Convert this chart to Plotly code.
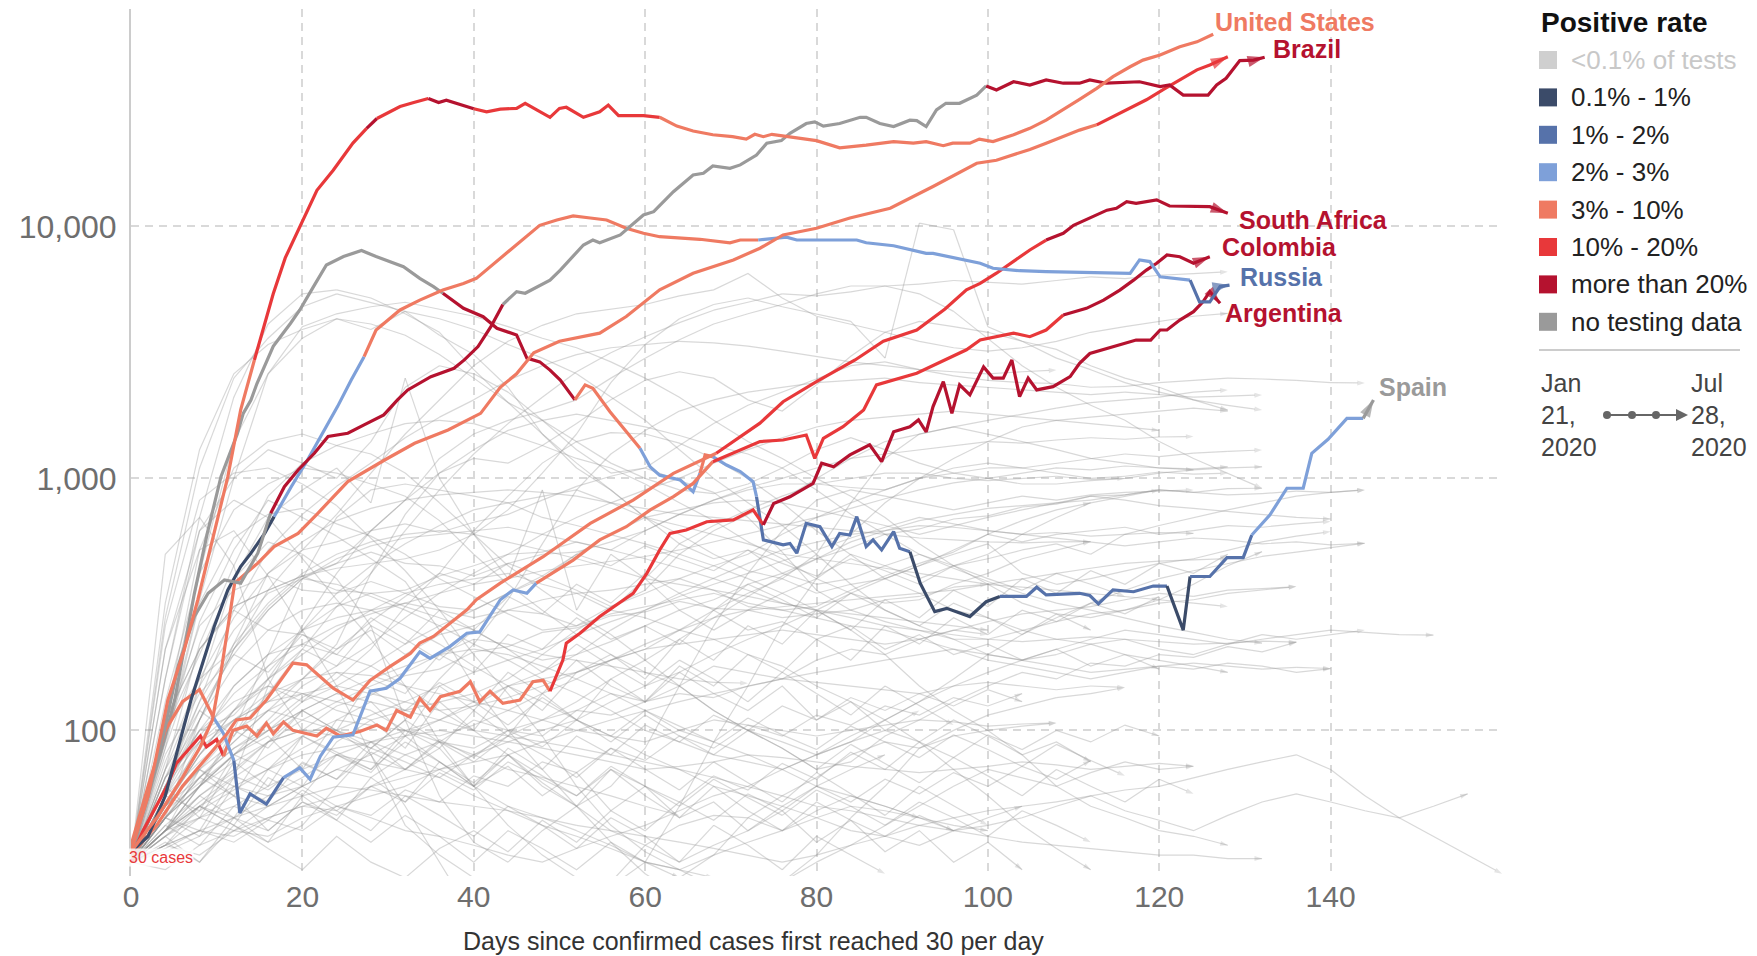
import math
import plotly.graph_objects as go

# ------------------------------------------------------------------ data
X_TICKS = [0, 20, 40, 60, 80, 100, 120, 140]
Y_TICKS = [100, 1000, 10000]
Y_TICK_TEXT = ["100", "1,000", "10,000"]

RATE_KEYS = ["lt01", "p01_1", "p1_2", "p2_3", "p3_10", "p10_20", "gt20", "none"]
RATE_LABELS = ["<0.1% of tests", "0.1% - 1%", "1% - 2%", "2% - 3%", "3% - 10%",
               "10% - 20%", "more than 20%", "no testing data"]
RATE_COLORS = ["#cfcfcf", "#3b4b69", "#5672aa", "#7ea0d9", "#ef7a62",
               "#e8383a", "#b5122f", "#9a9a9a"]

# highlighted countries: day, 7-day avg cases, positive-rate breakpoints
us_days = [0, 2, 4.3, 6.2, 7.8, 9.7, 11.3, 12.8, 14.4, 16.6, 18, 19.7, 21.7, 23.6, 25.9, 27.5, 28.7, 31.4, 33, 34.7,
           35.9, 36.8, 38.5, 40, 41.5, 43.1, 45, 46, 48.9, 50, 50.8, 52.8, 54.7, 55.7, 56.9, 59.8, 61.7, 63.7, 65.6, 67.9,
           70.2, 71.8, 72.8, 73.8, 74.8, 77, 80, 82.7, 85.8, 89, 91.3, 92.8, 94.8, 95.9, 97.9, 99, 100.6, 103, 104.9, 106.8,
           108.8, 110.7, 112.7, 114.6, 116.6, 118.1, 120.1, 122.4, 124.4, 126.3]
us_vals = [33, 55, 132, 208, 330, 607, 1016, 1870, 2950, 5400, 7500, 10000, 13900, 16700, 21400, 24500, 26800, 29900, 31000, 32200,
           31000, 31700, 30500, 29300, 28500, 29200, 29400, 30800, 27100, 29400, 29700, 27100, 28500, 30300, 27500, 27500, 27100, 25000, 23900, 23100,
           22700, 22200, 23200, 22700, 23200, 22600, 21900, 20500, 21000, 21700, 21400, 21700, 20900, 21400, 21400, 22200, 21700, 23100, 24500, 26400,
           29000, 31900, 35300, 39300, 43000, 45700, 47900, 51600, 54000, 57900]
us_rate = [(0, "p3_10"), (14.4, "p10_20"), (27.5, "gt20"), (28.7, "p10_20"), (34.7, "gt20"), (40, "p10_20"), (61.7, "p3_10")]

in_days = [0, 3, 6, 8, 9.5, 10.5, 12.1, 14.8, 16.7, 19.5, 21.8, 25.3, 29.6, 33.1, 37, 40.8, 43.1, 45, 47, 50,
           54.7, 57.8, 61.7, 65.6, 70.3, 73.4, 76.1, 80, 83.9, 88.6, 93.6, 98.7, 101, 103, 104.9, 106.8, 108.8, 110.7, 112.7, 114.6,
           116.6, 118.5, 120.5, 122.4, 124.4, 125.9, 128]
in_vals = [33, 45, 65, 85, 110, 170, 384, 461, 536, 605, 727, 971, 1183, 1378, 1556, 1812, 2300, 2600, 3150, 3500,
           3770, 4390, 5600, 6520, 7360, 8190, 9250, 9830, 10800, 11800, 14400, 17800, 18300, 19200, 20200, 21400, 22700, 24100, 25300, 27300,
           29400, 31800, 35000, 38100, 41800, 43700, 47100]
in_rate = [(0, "p3_10"), (112.7, "p10_20")]

br_days = [0, 2, 3.9, 5.5, 7.4, 9, 10.9, 12.8, 14.8, 16.3, 17.9, 19.5, 21.4, 23, 25.3, 27.2, 29.5, 31.1, 32.3, 35,
           37.7, 38.9, 40.5, 42, 43.4, 45, 46, 48.9, 50.1, 52.8, 53.9, 54.7, 57.1, 59.8, 61, 63.3, 65.6, 66.8, 67.9, 69.9,
           71.1, 73, 74.2, 75.9, 76.9, 78.8, 79.8, 80.8, 82.7, 85.1, 85.8, 87.4, 89, 90.9, 91.7, 92.8, 94, 95.1, 96.7, 98.7,
           99.8, 101, 103, 104.9, 106.8, 108.8, 110.7, 111.9, 113.8, 117.7, 120.1, 121.2, 122.8, 125.7, 126.7, 127.8, 129.4, 131, 132.3]
br_vals = [33, 55, 100, 180, 283, 350, 395, 384, 505, 727, 927, 1080, 1258, 1466, 1511, 1630, 1786, 2048, 2244, 2534,
           2735, 2953, 3335, 4000, 4900, 5510, 5430, 6120, 6710, 8440, 8830, 8610, 9250, 11100, 11440, 13730, 16000, 16250, 17380, 17000,
           17540, 19200, 21400, 21900, 23400, 25600, 26000, 25000, 25600, 27100, 27100, 25600, 24900, 26400, 26300, 24900, 29000, 30800, 30800, 33200,
           36100, 34800, 37500, 36400, 38100, 37000, 37000, 38100, 37000, 37500, 35900, 36400, 33200, 33200, 36400, 38700, 45500, 45700, 46900]
br_rate = [(0, "none"), (16.3, "gt20"), (43.4, "none"), (99.8, "gt20")]

ru_days = [0, 2, 4, 7, 9.7, 11.3, 12.8, 14, 15.6, 16.7, 18.7, 20.6, 22.6, 24.1, 25.7, 27.2, 28.6, 31.4, 33.7, 36.4,
           38.8, 40.3, 41.9, 43.8, 46.6, 47.7, 49.7, 51.6, 53.6, 55.5, 57.8, 59.8, 61.7, 66.4, 69.9, 71.1, 73.2, 76.5, 77.7, 84.7,
           85.8, 89, 92.8, 93.6, 99.1, 100.6, 103.7, 106.8, 116.6, 117.7, 118.9, 120.1, 123.6, 124.7, 125.9, 127.1, 128.2]
ru_vals = [33, 38, 55, 132, 258, 361, 447, 505, 605, 705, 927, 1183, 1556, 1927, 2455, 3040, 3880, 4660, 5100, 5590,
           5940, 6220, 6920, 7820, 9390, 10100, 10600, 11000, 10800, 10600, 9830, 9390, 9100, 8890, 8610, 8830, 8830, 9060, 8830, 8830,
           8610, 8380, 7820, 7820, 7140, 6820, 6670, 6610, 6510, 7360, 7250, 6310, 6120, 5020, 5020, 5770, 5850]
ru_rate = [(0, "p01_1"), (16.7, "p2_3"), (27.2, "p3_10"), (73.2, "p2_3"), (123.6, "p1_2")]

es_days = [0, 2, 4, 5.1, 7.4, 8.9, 10.5, 12.4, 13.1, 14, 14.7, 16.6, 18.6, 19.7, 21.3, 22.8, 24.8, 26.9, 28.6, 30.6,
           31.8, 33.7, 35.3, 36.4, 38.8, 41.1, 42.7, 45, 46.2, 47.7, 48.9, 50.1, 51.8, 53, 53.9, 55.9, 59.4, 60.6, 61.7, 64.1,
           65.6, 66.4, 67, 67.9, 69.5, 71.1, 72.6, 73, 73.8, 76.1, 76.9, 77.7, 78.8, 80.4, 81.8, 82.7, 83.9, 84.7, 85.8, 86.6,
           87.6, 89, 89.7, 90.9, 92.1, 93.8, 95.2, 97.9, 99.8, 101.4, 104.5, 105.7, 106.8, 110.7, 111.9, 112.9, 114.6, 117, 119.3, 120.9,
           122.8, 123.6, 125.9, 127.9, 129.8, 130.8, 132.9, 134.9, 136.8, 137.8, 139.7, 141.9, 143.8, 145]
es_vals = [33, 55, 95, 132, 350, 605, 1016, 1500, 1812, 2047, 2380, 3340, 4120, 4660, 5770, 7030, 7590, 8020, 7590, 7140,
           6920, 6220, 5770, 5430, 4730, 4380, 3940, 3710, 3000, 2900, 2690, 2455, 2050, 2350, 2280, 1840, 1316, 1110, 1030, 985,
           886, 1047, 1239, 1220, 1130, 1064, 971, 846, 570, 545, 552, 505, 663, 643, 536, 605, 596, 705, 536, 570,
           520, 615, 528, 512, 384, 296, 305, 283, 324, 340, 340, 370, 345, 350, 343, 318, 361, 355, 374, 374,
           250, 408, 408, 485, 485, 596, 715, 914, 914, 1258, 1429, 1731, 1731, 2047]
es_rate = [(0, "none"), (36.4, "gt20"), (51.8, "p3_10"), (59.4, "p2_3"), (66.4, "p3_10"), (67.9, "p2_3"), (73, "p1_2"),
           (90.9, "p01_1"), (101.4, "p1_2"), (120.9, "p01_1"), (123.6, "p1_2"), (130.8, "p2_3"), (143.8, "none")]

sa_days = [0, 3, 6, 9.2, 11.2, 12.3, 13.9, 15.8, 17.4, 18.9, 20.5, 22.1, 23.6, 25.9, 27.9, 30.2, 32.6, 33.7, 35.3, 39.2,
           40.3, 43.1, 48.1, 53.6, 58.6, 63.3, 68.3, 73.4, 76.1, 80, 84.5, 87.8, 91.7, 95, 97.5, 99.1, 101, 103, 104.9, 106.8,
           108.8, 110, 111.9, 113.9, 115, 116.2, 117.3, 119.7, 121.2, 125.9, 128]
sa_vals = [32, 42, 60, 81, 97, 110, 112, 132, 158, 185, 182, 163, 147, 132, 158, 179, 202, 222, 236, 301,
           330, 384, 489, 663, 820, 1047, 1258, 1656, 2015, 2420, 2950, 3500, 3880, 4700, 5600, 5940, 6520, 7250, 8060, 8830,
           9390, 10100, 10800, 11600, 11800, 12540, 12350, 12740, 12050, 11980, 11270]
sa_rate = [(0, "p3_10"), (68.3, "p10_20"), (106.8, "gt20")]

co_days = [0, 2, 4, 6, 8, 9.6, 10.8, 12, 12.7, 13.9, 15.8, 17.8, 19.7, 20.9, 22.1, 23.6, 25.9, 27.9, 29.8, 31.4,
           33.7, 34.9, 37.2, 39.2, 40.7, 43.1, 44.6, 46.2, 47.3, 51.6, 54.7, 57.8, 60.6, 63.3, 65.6, 67.9, 70.3, 73.4, 76.1, 78.8,
           79.8, 80.8, 83.1, 85.5, 87, 91.7, 97.5, 99.1, 103, 104.9, 106.8, 108.8, 111.5, 113.5, 115.4, 117, 118.5, 119.7, 120.9, 122.4,
           124, 125.9]
co_vals = [35, 60, 100, 130, 145, 113, 97, 76, 47, 56, 51, 65, 71, 64, 79, 94, 96, 143, 147, 161,
           205, 193, 215, 243, 246, 330, 361, 350, 384, 474, 570, 643, 750, 846, 955, 1165, 1258, 1400, 1420, 1486,
           1201, 1442, 1604, 1867, 2350, 2612, 3240, 3540, 3770, 3650, 3880, 4450, 4730, 5100, 5590, 6120, 6710, 7140, 7700, 7580,
           7140, 7580]
co_rate = [(0, "p3_10"), (9.6, "p2_3"), (12, "p1_2"), (17.8, "p2_3"), (47.3, "p3_10"), (67.9, "p10_20"), (108.8, "gt20")]

ar_days = [0, 1.4, 4.2, 5.3, 8.1, 8.8, 10, 10.8, 11.9, 13.5, 14.7, 15.8, 16.6, 17.8, 18.9, 21.7, 22.8, 24.4, 26.7, 28.7,
           29.8, 31, 32.6, 33.7, 34.9, 36.1, 38.4, 39.6, 40.7, 41.9, 43.4, 45.4, 46.9, 48.1, 48.9, 50.4, 50.8, 52.4, 54.7, 57.1,
           58.6, 60.2, 61.7, 62.9, 64.8, 67.2, 70.3, 72.6, 73.8, 75, 76.9, 79.6, 80.6, 82, 83.9, 86.2, 87.6, 89, 90.9, 91.9,
           92.8, 93.6, 94.8, 95.8, 96.7, 97.9, 99.5, 100.6, 101.8, 102.8, 103.7, 104.7, 105.7, 107.6, 109.6, 110.7, 111.9, 113.9, 115.8, 117.3,
           119, 120.1, 120.9, 122.4, 124, 125.1, 125.9, 127.1]
ar_vals = [31, 40, 60, 74, 95, 86, 92, 79, 100, 104, 95, 107, 97, 108, 100, 95, 102, 95, 99, 105,
           100, 120, 113, 134, 120, 136, 143, 156, 130, 143, 128, 132, 156, 158, 143, 190, 222, 243, 283, 324,
           350, 420, 520, 605, 624, 673, 684, 750, 654, 795, 845, 955, 1148, 1112, 1239, 1358, 1165, 1531, 1604, 1706,
           1531, 1927, 2420, 1812, 2350, 2145, 2770, 2500, 2500, 2950, 2110, 2500, 2244, 2312, 2535, 2860, 3130, 3280, 3440, 3540,
           3540, 3880, 3880, 4250, 4590, 5020, 5510, 4955]
ar_rate = [(0, "p10_20"), (10.8, "p3_10"), (48.9, "p10_20"), (73.8, "gt20")]

# other countries (light grey), values sampled every 4 days from day 0
BG_DAYS = [0, 4, 8, 12, 16, 20, 24, 28, 32, 36, 40, 44, 48, 52, 56, 60, 64, 68, 72, 76, 80,
           84, 88, 92, 96, 100, 104, 108, 112, 116, 120, 124, 128, 132, 136, 140, 144, 148, 152, 156, 160]
BG_VALUES = [
    [30, 280, 1100, 2500, 3600, 4800, 5400, 5000, 4600, 4300, 3900, 3400, 3000, 2600, 2100, 1700, 1300, 1000, 800, 650, 500, 380, 300, 260, 230, 200, 190, 200, 220, 230, 210, 200, 220, 240, 230, 240, 250],
    [30, 160, 700, 2100, 4100, 5400, 5600, 5200, 4500, 3800, 2700, 2000, 1500, 1150, 900, 700, 600, 500, 430, 400, 350, 380, 400, 450, 500, 550, 420, 380, 400, 430, 460, 480, 520, 560, 590, 615],
    [30, 110, 420, 1400, 2600, 3600, 4300, 3900, 4600, 3700, 3100, 2300, 1500, 1100, 900, 700, 550, 480, 520, 420, 380, 400, 450, 500, 450, 480, 520, 550, 500, 600, 650, 700, 750, 800, 850, 880, 900],
    [30, 90, 330, 1000, 2600, 4000, 4500, 4800, 5000, 4700, 4400, 4000, 3600, 3300, 2900, 2500, 2100, 1700, 1400, 1200, 1000, 850, 700, 550, 450, 380, 320, 290, 280, 300, 330, 380, 450, 512],
    [30, 320, 1300, 2600, 3400, 3900, 4300, 4100, 3700, 3100, 2500, 2000, 1700, 1400, 1150, 1000, 900, 870, 950, 1100, 1300, 1450, 1300, 1150, 1050, 1000, 950, 950, 980, 1000, 1050, 1080, 1100, 1112],
    [30, 160, 620, 1000, 1300, 1150, 1000, 1400, 2300, 2800, 2600, 2200, 1700, 1300, 1050, 1100, 1350, 1650, 1950, 2200, 2500, 2800, 2900, 2700, 2550, 2450, 2400, 2380, 2300, 2320, 2400, 2450, 2500, 2480, 2450, 2400, 2390],
    [30, 70, 220, 450, 850, 1150, 1350, 1500, 1650, 1700, 1650, 1500, 1350, 1200, 1100, 950, 800, 680, 560, 480, 400, 350, 320, 330, 380, 420, 480, 520, 561],
    [30, 130, 420, 750, 950, 1100, 1050, 950, 850, 680, 500, 380, 300, 240, 200, 170, 150, 120, 100, 85, 70, 75, 95, 110, 130, 150, 170, 160, 185, 180, 200, 195, 215, 205, 224],
    [30, 110, 520, 1100, 1400, 1500, 1350, 1250, 1050, 800, 600, 450, 360, 290, 240, 190, 150, 120, 100, 90, 80, 90, 110, 130, 160, 200, 240, 280, 320, 360, 400, 430, 460, 490, 510, 530, 553],
    [30, 260, 820, 1050, 1100, 950, 780, 580, 430, 300, 200, 140, 95, 60, 42, 33, 28, 24, 22, 25, 32, 45, 60, 85, 100, 115, 125, 135, 140, 148],
    [30, 210, 620, 820, 700, 480, 330, 230, 150, 90, 60, 42, 32, 26, 24, 22, 26, 32, 45, 55, 65, 80, 90, 85, 95, 100, 104, 107],
    [30, 85, 320, 580, 720, 760, 660, 590, 500, 400, 340, 290, 250, 260, 290, 310, 330, 350, 320, 300, 280, 260, 250, 230, 210, 190, 180, 170, 160, 170, 180, 175, 185, 180, 170, 176],
    [30, 45, 110, 220, 420, 520, 560, 620, 660, 610, 670, 720, 820, 930, 1020, 1100, 980, 880, 700, 510, 360, 300, 270, 250, 230, 230, 250, 270, 290, 300, 320, 330, 350, 360, 372],
    [30, 90, 270, 520, 820, 700, 590, 480, 390, 250, 150, 100, 70, 50, 36, 27, 22, 20, 22, 25, 30, 35, 42, 50, 60, 70, 65, 60, 68, 75, 70, 72],
    [30, 40, 60, 95, 140, 210, 310, 420, 620, 900, 1250, 1650, 2100, 2650, 3150, 3650, 4150, 4650, 5000, 5400, 5300, 5500, 5800, 5900, 6100, 6000, 5900, 6100, 6300, 6200, 6400, 6500, 6600],
    [30, 55, 110, 210, 360, 520, 720, 1050, 1500, 2050, 2800, 3500, 4050, 4500, 4700, 4900, 5300, 5600, 6500, 5200, 4400, 4100, 3800, 3500, 3300, 3200, 3300, 3500, 3800, 4000, 4200, 4400, 4520],
    [30, 110, 210, 310, 360, 410, 440, 460, 480, 520, 600, 750, 1050, 1500, 2400, 3400, 4300, 4900, 5200, 4800, 4500, 4200, 3000, 10300, 9700, 4000, 3500, 3000, 2700, 2400, 2200, 2050, 1950, 1867],
    [30, 60, 90, 110, 130, 160, 220, 420, 720, 1050, 1200, 1150, 1350, 1650, 2050, 2450, 2650, 2500, 2050, 1850, 2350, 3050, 3800, 4200, 4000, 3800, 3500, 3250, 2800, 2500, 2300, 2050, 1867],
    [30, 100, 160, 210, 300, 400, 460, 620, 820, 1200, 1500, 1700, 1850, 2050, 2500, 3000, 3550, 4100, 4500, 4900, 5400, 5800, 5800, 5400, 4600, 3600, 2800, 2300, 1950, 1700, 1400, 1200, 1050, 914],
    [30, 60, 130, 300, 520, 720, 930, 1150, 1450, 1750, 2050, 2450, 2800, 3100, 3300, 3400, 3500, 3450, 3350, 3200, 3050, 2900, 2800, 2700, 2650, 2600, 2650, 2690],
    [30, 45, 40, 65, 150, 260, 420, 620, 820, 1050, 1300, 1550, 1700, 1800, 1700, 1600, 1480, 1350, 1250, 1100, 900, 720, 600, 500, 440, 390, 350, 320, 300, 280, 260, 245, 230, 222],
    [30, 85, 210, 300, 250, 240, 210, 250, 200, 240, 260, 300, 290, 260, 310, 360, 500, 620, 720, 820, 1000, 1200, 1400, 1500, 1600, 1700, 1800, 1900, 2000, 2050, 2100, 2200, 2244],
    [30, 65, 100, 115, 160, 250, 310, 350, 360, 410, 450, 500, 510, 560, 520, 620, 720, 820, 920, 1000, 1100, 1200, 1250, 1300, 1350, 1400, 1380, 1420, 1450, 1430, 1460, 1466],
    [30, 45, 65, 85, 105, 135, 160, 210, 310, 420, 620, 850, 1150, 1400, 1520, 1500, 1380, 1200, 1000, 800, 620, 500, 400, 350, 300, 280, 250, 230, 220, 200, 190, 180, 170],
    [30, 40, 50, 42, 36, 42, 60, 85, 110, 160, 220, 330, 550, 900, 1250, 1550, 1850, 2050, 2200, 2300, 2400, 2450, 2500, 2400, 2350, 2300, 2250, 2200, 2150, 2200, 2150, 2100, 2120, 2145],
    [30, 65, 110, 210, 310, 410, 460, 510, 460, 450, 410, 460, 500, 510, 560, 620, 720, 820, 900, 950, 950, 920, 900, 1000, 1100, 1150, 1100, 1150, 1200, 1250, 1220, 1260, 1280, 1297],
    [30, 110, 210, 310, 360, 410, 360, 350, 310, 280, 250, 210, 190, 200, 250, 300, 350, 400, 460, 520, 560, 600, 620, 650, 640, 620, 600, 610, 590, 600, 610, 605],
    [30, 100, 260, 360, 410, 360, 350, 390, 350, 310, 300, 350, 410, 360, 310, 350, 400, 360, 310, 300, 310, 360, 410, 460, 510, 600, 560, 600, 620, 640, 600, 620, 650, 640, 660, 675],
    [30, 210, 520, 620, 410, 250, 150, 80, 42, 32, 26, 22, 20, 20, 24, 30, 50, 90, 150, 260, 400, 600, 800, 1000, 1200, 1400, 1600, 1700, 1750, 1800, 1850, 1900, 1850],
    [30, 55, 150, 400, 560, 500, 400, 260, 110, 55, 36, 30, 40, 50, 60, 85, 150, 260, 420, 620, 820, 900, 850, 800, 750, 800, 850, 820, 860, 880, 890, 900],
    [30, 500, 700, 450, 160, 100, 100, 80, 50, 30, 18, 12, 10, 14, 25, 35, 42, 46, 45, 40, 48, 55, 50, 45, 40, 42, 45, 50, 55, 48, 44, 40, 46, 52, 56, 52, 48, 45, 50, 56],
    [30, 50, 80, 120, 160, 200, 250, 300, 350, 380, 400, 420, 380, 350, 300, 280, 250, 230, 200, 180, 150, 130, 110, 90, 70, 55, 42, 34, 28],
    [30, 40, 60, 80, 100, 130, 150, 180, 220, 260, 300, 350, 400, 500, 600, 700, 750, 800, 820, 800, 750, 700, 650, 600, 650, 700, 750, 800, 850, 820, 780, 760, 740, 720, 700, 690],
    [30, 35, 45, 50, 60, 70, 80, 90, 100, 110, 130, 150, 160, 170, 190, 210, 250, 300, 350, 400, 500, 800, 1200, 1500, 1600, 1500, 1400, 1300, 1200, 1150, 1100, 1080],
    [30, 60, 100, 150, 200, 250, 280, 300, 320, 300, 280, 300, 330, 350, 360, 380, 400, 450, 500, 600, 700, 800, 900, 1000, 1050, 1100, 1100, 1050, 1000, 1020, 1060, 1040, 1050],
    [30, 60, 100, 130, 150, 140, 120, 110, 120, 130, 140, 160, 200, 250, 300, 400, 550, 650, 750, 850, 950, 1000, 1050, 1050, 1000, 980, 1000, 1020, 990, 1000],
    [30, 45, 70, 90, 120, 110, 100, 90, 80, 70, 60, 50, 45, 40, 35, 30, 28, 26],
    [30, 50, 90, 150, 200, 220, 200, 180, 150, 120, 100, 80, 60, 50, 40, 35, 30, 35, 40, 50, 60, 70, 80],
    [30, 42, 55, 68, 90, 100, 125, 138, 165, 175, 205, 215, 245, 255, 285, 295, 325, 305, 300, 280, 290, 300, 330, 340, 370, 380],
    [30, 60, 110, 180, 250, 300, 320, 300, 260, 220, 180, 150, 130, 110, 95, 80, 70, 60, 55, 50, 45, 40, 38, 35, 40, 45, 50],
    [30, 35, 32, 40, 45, 50, 48, 60, 70, 65, 80, 90, 100, 110, 130, 150, 170, 200, 230, 260, 300, 350, 400, 450, 520, 600, 680, 750, 800],
    [30, 70, 150, 250, 350, 400, 380, 340, 300, 260, 220, 190, 160, 140, 120, 100, 90, 80, 75, 70, 80, 90, 100, 120],
    [30, 38, 50, 65, 80, 95, 110, 105, 100, 95, 105, 120, 140, 160, 190, 220, 250, 280, 300, 310, 320, 330, 340, 350, 360, 380, 400, 420, 440, 460, 470, 475, 480],
    [30, 55, 85, 110, 130, 140, 150, 140, 130, 120, 125, 135, 150, 170, 190, 210, 220, 230, 240, 250, 240, 230, 220, 230, 250, 270, 290, 300, 310, 330, 350, 340, 360, 365, 372],
    [30, 28, 35, 40, 38, 45, 50, 55, 60, 70, 80, 95, 110, 130, 160, 190, 230, 280, 340, 410, 480, 560, 620, 680, 720, 760, 780, 800, 820, 860, 900, 880, 860, 870, 890, 880, 900],
    [30, 45, 60, 75, 90, 100, 95, 85, 75, 65, 55, 48, 42, 38, 34, 30, 28, 32, 36, 40, 45, 50, 48, 45, 42, 40],
    [30, 65, 130, 220, 320, 420, 500, 560, 600, 620, 600, 560, 520, 480, 440, 400, 380, 360, 340, 320, 300, 290, 280, 270, 260, 250],
    [30, 40, 45, 55, 50, 60, 70, 80, 95, 110, 125, 150, 170, 200, 225, 260, 300, 330, 380, 420, 480, 530, 600, 630, 690, 710, 770, 790, 850, 860, 900, 880, 910, 914],
    [30, 50, 70, 60, 55, 65, 80, 75, 70, 90, 110, 100, 95, 120, 140, 130, 150, 180, 170, 160, 190, 210, 200, 230, 250, 240],
    [30, 75, 160, 280, 420, 560, 680, 760, 820, 860, 880, 900, 880, 850, 800, 760, 720, 700, 680, 660, 640, 620, 600, 580, 570, 560, 555, 560, 561],
    [30, 45, 65, 85, 100, 120, 140, 160, 180, 200, 210, 200, 180, 160, 140, 120, 100, 90, 80, 70, 60, 55, 50, 45],
    [30, 55, 95, 140, 180, 220, 260, 290, 320, 350, 380, 400, 430, 450, 470, 490, 520, 560, 600, 650, 700, 760, 830, 900, 960, 1000, 1050, 1100, 1080, 1120, 1100, 1090, 1112],
    [30, 38, 48, 58, 70, 85, 100, 115, 130, 150, 170, 190, 210, 240, 270, 300, 340, 380, 420, 470, 520, 580, 640, 700, 660, 620, 600, 580, 560, 540, 560, 580, 570, 550, 560, 545, 553],
    [30, 60, 120, 200, 300, 400, 480, 540, 580, 600, 620, 640, 600, 560, 520, 480, 440, 400, 360, 320, 300, 280, 260, 250, 240, 230, 225, 230, 235, 230, 225, 220, 222, 226, 224],
    [30, 40, 50, 45, 55, 60, 50, 45, 40, 38, 35, 32, 30, 34, 38, 42, 48, 55, 60, 70, 80, 95, 110, 130, 150, 170, 190, 210, 230, 250, 240, 230, 220, 230, 240, 250, 245, 240, 239],
    [30, 45, 60, 80, 100, 120, 140, 130, 120, 110, 100, 95, 90, 85, 80, 75, 70, 65, 60, 55, 50, 48, 45, 42, 40, 38, 36, 35, 34, 33, 32, 32, 31, 31],
    [30, 40, 55, 70, 90, 110, 130, 150, 170, 200, 230, 220, 200, 190, 180, 170, 160, 155, 154],
    [30, 50, 70, 100, 120, 140, 130, 120, 100, 90, 80, 70, 65, 60, 55, 50, 46],
    [30, 35, 40, 38, 45, 50, 55, 60, 65, 70, 75, 80, 90, 100, 110, 120, 130, 140, 150, 160, 170, 180, 190, 200, 210, 200, 190, 180, 170, 175, 180, 185, 180, 175, 178, 176],
    [30, 38, 45, 40, 50, 60, 70, 65, 80, 90, 85, 100, 110, 120, 115, 130, 140, 135, 150, 160, 155, 150, 145, 140, 150, 155, 150, 145, 150, 148],
    [30, 50, 80, 110, 140, 160, 170, 165, 150, 140, 130, 120, 110, 100, 95, 90, 100, 110, 105, 100, 95, 100, 105, 110, 108, 104, 106, 107],
    [30, 40, 50, 60, 70, 80, 85, 90, 95, 100, 95, 90, 85, 80, 75, 70, 72, 75, 80, 78, 75, 72, 70, 68, 70, 72, 75, 73, 70, 72, 74, 72],
    [30, 35, 40, 45, 50, 55, 60, 58, 55, 52, 50, 48, 45, 42, 40, 38, 36, 34, 32, 30, 32, 35, 38, 42, 45, 48, 50, 52, 55, 58, 60, 65, 70, 75, 80, 70, 55, 45, 38, 32, 27],
    [30, 100, 200, 400, 700, 900, 1100, 800, 2500, 1000, 600, 400, 900, 300, 500, 400, 300, 250, 300, 350, 400, 500, 450, 400, 450, 500, 600, 700, 800, 850, 900],
    [30, 40, 60, 100, 200, 400, 700, 900, 950, 900, 850, 800, 700, 650, 600, 550, 500, 450, 400, 350, 300, 250, 200, 150, 120, 100, 80, 60, 50, 45, 40, 38, 35],
    [30, 50, 80, 120, 180, 250, 350, 450, 550, 650, 750, 800, 850, 900, 800, 700, 650, 600, 550, 500, 480, 460, 440, 420, 400, 380, 370, 360, 350, 340, 330, 320, 310],
    [30, 45, 60, 80, 110, 150, 180, 220, 280, 350, 420, 500, 600, 700, 800, 900, 1000, 1150, 1300, 1450, 1600, 1700, 1750, 1800, 1850, 1800, 1750, 1700, 1650, 1600, 1550],
    [30, 45, 38, 60, 52, 75, 64, 90, 70, 85, 60, 72, 55, 68, 48, 60, 45, 52, 40, 48, 36, 44, 33, 40, 30, 36, 28],
    [30, 55, 48, 80, 95, 70, 110, 130, 95, 150, 120, 170, 140, 190, 150, 130, 170, 140, 120, 150, 110, 130, 100, 90, 110, 95, 80, 90, 75],
    [30, 40, 70, 55, 90, 120, 100, 160, 140, 200, 170, 240, 210, 280, 230, 260, 220, 300, 250, 270, 230, 260, 210, 240, 200, 220, 190, 210, 180, 200, 175],
    [30, 60, 45, 75, 60, 95, 80, 70, 100, 85, 120, 95, 140, 110, 160, 130, 180, 150, 200, 170, 230, 190, 260, 220, 280, 240, 300, 270, 320, 290, 340],
    [30, 35, 50, 42, 65, 55, 80, 68, 95, 75, 60, 80, 62, 50, 70, 55, 45, 60, 48, 40, 52, 44, 38, 46, 40],
    [30, 70, 120, 95, 160, 210, 180, 260, 220, 300, 250, 340, 290, 380, 320, 420, 350, 300, 380, 330, 280, 350, 300, 260, 320, 280, 240, 290, 250],
    [30, 40, 55, 45, 70, 60, 90, 110, 85, 130, 100, 150, 120, 170, 200, 160, 230, 190, 260, 220, 300, 250, 330, 280, 360, 310, 400, 350, 430, 380, 460, 420, 500],
    [30, 50, 65, 55, 40, 52, 44, 36, 46, 38, 30, 40, 34, 28, 36, 30, 26],
    [30, 38, 30, 45, 36, 55, 44, 65, 52, 75, 60, 85, 70, 95, 80, 105, 90, 115, 100, 125, 110, 135, 120, 140, 125, 145, 130],
    [30, 80, 140, 200, 170, 240, 200, 280, 230, 190, 250, 210, 170, 220, 180, 150, 190, 160, 130, 170, 140, 115, 150, 125, 105],
    [30, 45, 65, 90, 120, 160, 210, 270, 340, 420, 380, 460, 410, 500, 450, 540, 480, 430, 520, 460, 410, 480, 430, 380, 450, 400, 360, 420, 380, 340],
    [30, 34, 40, 36, 44, 40, 50, 46, 58, 52, 66, 60, 75, 68, 85, 76, 95, 85, 105, 95, 115, 105, 125, 115, 135, 125, 140],
    [30, 42, 35, 50, 44, 58, 48, 40, 55, 46, 38, 50, 42, 34, 45, 38, 30, 42, 35, 28, 38, 32, 27],
    [30, 48, 62, 80, 70, 95, 82, 70, 90, 75, 62, 80, 66, 55, 72, 60, 50, 64, 54, 46, 58, 50, 42, 52, 45, 38, 48, 42, 36],
    [30, 33, 38, 45, 40, 52, 46, 60, 52, 68, 58, 75, 64, 55, 70, 60, 52, 66, 58, 74, 64, 82, 70, 90, 78, 96, 84, 100, 90, 105, 95],
    [30, 55, 75, 100, 85, 120, 100, 85, 110, 90, 75, 95, 80, 65, 85, 70, 58, 75, 62, 52, 68, 56, 46, 60, 50, 42],
    [30, 36, 30, 42, 34, 28, 38, 30, 26, 34, 40, 33, 44, 36, 48, 40, 52, 44, 56, 48, 60, 52, 64, 56, 68, 60, 72, 64, 76],
    [30, 65, 90, 120, 150, 130, 170, 145, 120, 155, 130, 105, 135, 110, 90, 115, 95, 80, 100, 85, 70, 88, 74, 62, 78, 66, 55, 70, 60, 52, 64, 56],
    [30, 40, 52, 66, 58, 74, 64, 82, 70, 92, 78, 100, 86, 110, 95, 120, 104, 90, 112, 96, 84, 104, 90, 78, 96, 84, 72, 88, 76, 66],
]

# ------------------------------------------------------------------ layout geometry (pixels)
W, H = 1757, 956
ML, MR, MT, MB = 131, 255, 9, 80
PLOT_W, PLOT_H = W - ML - MR, H - MT - MB
FONT = "Liberation Sans, Arial, Helvetica, sans-serif"
COLOR = dict(zip(RATE_KEYS, RATE_COLORS))


def px(x):
    return (x - ML) / PLOT_W


def py(y):
    return (H - MB - y) / PLOT_H


fig = go.Figure()

BG = "rgba(150,150,150,0.37)"
for vals in BG_VALUES:
    n = len(vals)
    fig.add_trace(go.Scatter(
        x=BG_DAYS[:n], y=vals, mode="lines+markers",
        line=dict(color=BG, width=1.2),
        marker=dict(symbol="arrow", angleref="previous", size=[0] * (n - 1) + [8],
                    color=BG, line=dict(width=0)),
        hoverinfo="skip", showlegend=False))


def rate_at(breaks, d):
    cat = breaks[0][1]
    for b, c in breaks:
        if d >= b - 1e-9:
            cat = c
    return cat


def add_country(days, vals, breaks, arrow=True):
    segs = []
    cur = None
    for i in range(len(days) - 1):
        c = rate_at(breaks, days[i])
        if cur is None or c != cur[0]:
            cur = [c, [days[i]], [vals[i]]]
            segs.append(cur)
        cur[1].append(days[i + 1])
        cur[2].append(vals[i + 1])
    for c, xs, ys in segs:
        fig.add_trace(go.Scatter(x=xs, y=ys, mode="lines",
                                 line=dict(color=COLOR[c], width=3.2),
                                 hoverinfo="skip", showlegend=False))
    fig.add_trace(go.Scatter(x=[days[0]], y=[vals[0]], mode="markers",
                             marker=dict(size=8, color=COLOR[rate_at(breaks, days[0])]),
                             hoverinfo="skip", showlegend=False))
    if arrow:
        cl = COLOR[rate_at(breaks, days[-2])]
        fig.add_trace(go.Scatter(x=days[-2:], y=vals[-2:], mode="markers",
                                 marker=dict(symbol="arrow", angleref="previous", size=[0, 18],
                                             color=cl, line=dict(width=0)),
                                 hoverinfo="skip", showlegend=False))


add_country(es_days, es_vals, es_rate)
add_country(ar_days, ar_vals, ar_rate)
add_country(co_days, co_vals, co_rate)
add_country(sa_days, sa_vals, sa_rate)
add_country(ru_days, ru_vals, ru_rate)
add_country(in_days, in_vals, in_rate)
add_country(br_days, br_vals, br_rate)
add_country(us_days, us_vals, us_rate, arrow=False)

annotations = []
shapes = []

# country labels at the end of their lines
labels = [
    ("United States", us_days, us_vals, COLOR["p3_10"], 0, 12),
    ("Brazil", br_days, br_vals, COLOR["gt20"], 6, 8),
    ("South Africa", sa_days, sa_vals, COLOR["gt20"], 9, -7),
    ("Colombia", co_days, co_vals, COLOR["gt20"], 10, 10),
    ("Russia", ru_days, ru_vals, COLOR["p1_2"], 8, 8),
    ("Argentina", ar_days, ar_vals, COLOR["gt20"], 3, -10),
    ("Spain", es_days, es_vals, COLOR["none"], 4, 13),
]
for text, d, v, col, dx, dy in labels:
    annotations.append(dict(x=d[-1], y=math.log10(v[-1]), xref="x", yref="y", text="<b>%s</b>" % text,
                            showarrow=False, xanchor="left", yanchor="middle", xshift=dx, yshift=dy,
                            font=dict(family=FONT, size=25, color=col)))

annotations.append(dict(x=0, y=math.log10(30), xref="x", yref="y", text="30 cases", showarrow=False,
                        xanchor="left", yanchor="middle", xshift=-3, yshift=5,
                        font=dict(family=FONT, size=16, color=COLOR["p10_20"]),
                        bgcolor="rgba(255,255,255,0.8)", borderpad=0))

annotations.append(dict(x=px(753), y=py(941), xref="paper", yref="paper",
                        text="Days since confirmed cases first reached 30 per day", showarrow=False,
                        xanchor="center", yanchor="middle", font=dict(family=FONT, size=25, color="#333")))

# legend
annotations.append(dict(x=px(1539), y=py(22), xref="paper", yref="paper", text="<b>Positive rate</b>",
                        showarrow=False, xanchor="left", yanchor="middle",
                        font=dict(family=FONT, size=28, color="#111")))
for i, (lab, col) in enumerate(zip(RATE_LABELS, RATE_COLORS)):
    yc = 60 + i * 37.4
    shapes.append(dict(type="rect", xref="paper", yref="paper", x0=px(1539), x1=px(1557),
                       y0=py(yc + 9), y1=py(yc - 9), fillcolor=col, line=dict(width=0)))
    annotations.append(dict(x=px(1569), y=py(yc), xref="paper", yref="paper", text=lab, showarrow=False,
                            xanchor="left", yanchor="middle",
                            font=dict(family=FONT, size=26, color="#c8c8c8" if i == 0 else "#222")))
shapes.append(dict(type="line", xref="paper", yref="paper", x0=px(1539), x1=px(1740), y0=py(350), y1=py(350),
                   line=dict(color="#cccccc", width=2)))
for j, t in enumerate(["Jan", "21,", "2020"]):
    annotations.append(dict(x=px(1539), y=py(383 + 32 * j), xref="paper", yref="paper", text=t, showarrow=False,
                            xanchor="left", yanchor="middle", font=dict(family=FONT, size=25, color="#444")))
for j, t in enumerate(["Jul", "28,", "2020"]):
    annotations.append(dict(x=px(1689), y=py(383 + 32 * j), xref="paper", yref="paper", text=t, showarrow=False,
                            xanchor="left", yanchor="middle", font=dict(family=FONT, size=25, color="#444")))
shapes.append(dict(type="line", xref="paper", yref="paper", x0=px(1607), x1=px(1680), y0=py(415), y1=py(415),
                   line=dict(color="#666", width=2)))
for cx in (1607, 1632, 1656):
    shapes.append(dict(type="circle", xref="paper", yref="paper", x0=px(cx - 4), x1=px(cx + 4),
                       y0=py(419), y1=py(411), fillcolor="#666", line=dict(width=0)))
shapes.append(dict(type="path", xref="paper", yref="paper",
                   path="M %f,%f L %f,%f L %f,%f Z" % (px(1676), py(409), px(1688), py(415), px(1676), py(421)),
                   fillcolor="#666", line=dict(width=0)))

GRID = "#d9d9d9"
fig.update_layout(
    width=W, height=H,
    margin=dict(l=ML, r=MR, t=MT, b=MB),
    paper_bgcolor="white", plot_bgcolor="white",
    showlegend=False,
    font=dict(family=FONT),
    annotations=annotations,
    shapes=shapes,
    xaxis=dict(range=[0, 160], tickvals=X_TICKS, showgrid=True, gridcolor=GRID, gridwidth=1.5,
               griddash="8px,6px", zeroline=False, showline=False, ticks="",
               tickfont=dict(family=FONT, size=30, color="#6e6e6e")),
    yaxis=dict(type="log", range=[1.4222, 4.8627], tickvals=Y_TICKS, ticktext=Y_TICK_TEXT,
               showgrid=True, gridcolor=GRID, gridwidth=1.5, griddash="8px,6px", zeroline=False,
               showline=True, linecolor="#cccccc", linewidth=2, ticks="", ticklabelstandoff=6,
               tickfont=dict(family=FONT, size=32, color="#6e6e6e")),
)

# place the figure at the page's top-left corner (no default body margin), no mode bar
fig.write_html("out.html", config={"displayModeBar": False},
               post_script="document.body.style.margin='0';document.body.style.overflow='hidden';")
